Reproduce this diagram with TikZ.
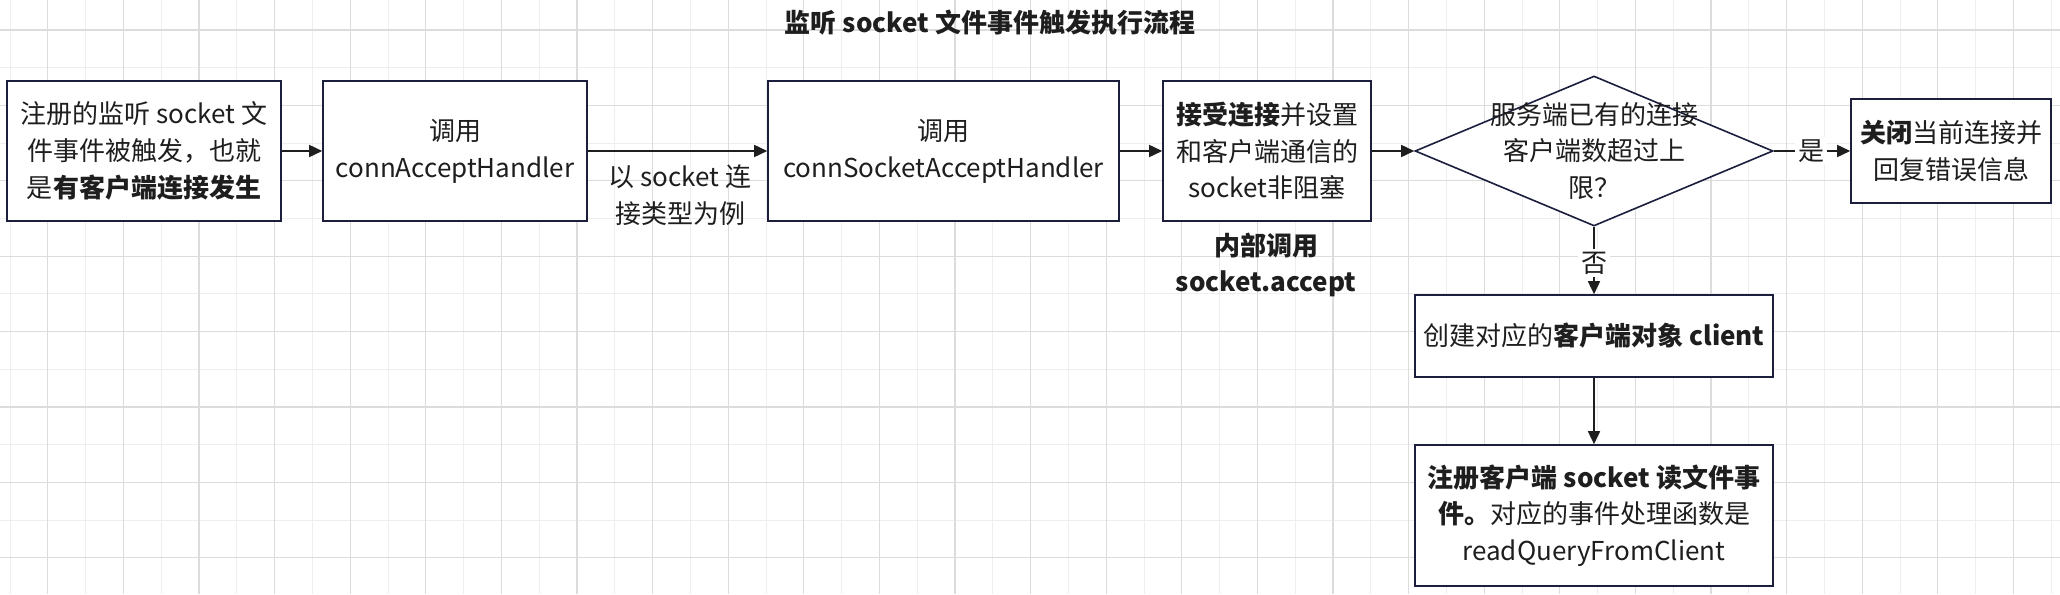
\documentclass[tikz,border=0pt]{standalone}
\usepackage{fontspec}
\setmainfont{Noto Sans CJK SC}
\usetikzlibrary{arrows.meta,shapes.geometric}

\definecolor{gridd}{HTML}{DCDCDC}
\definecolor{gridl}{HTML}{EEEEEE}
\definecolor{edge}{HTML}{1B1E3D}
\definecolor{ink}{HTML}{1E1E1E}

\begin{document}
\begin{tikzpicture}[x=1pt,y=-1pt,font=\fontsize{26pt}{36.7pt}\selectfont,
  box/.style={draw=edge,line width=1.6pt,fill=white,inner sep=0pt,align=center,text=ink},
  flow/.style={draw=ink,line width=1.6pt,-{Triangle[length=13pt,width=12pt]}},
  note/.style={text=ink,align=center,inner sep=1pt}]

  \useasboundingbox[fill=white] (0,0) rectangle (2060,594);

  % grid paper
  \foreach \g in {0,...,27} \draw[gridl,line width=1pt] ({10+75.6*\g},0) -- ++(0,594);
  \foreach \g in {0,...,6} \draw[gridl,line width=1pt] (0,{67.7+75.4*\g}) -- ++(2060,0);
  \foreach \g in {0,...,26} \draw[gridd,line width=1.3pt] ({47.8+75.6*\g},0) -- ++(0,594);
  \foreach \g in {0,...,7} \draw[gridd,line width=1.3pt] (0,{30+75.4*\g}) -- ++(2060,0);

  \node[note,font=\fontsize{26pt}{36.7pt}\selectfont\bfseries] at (990,23) (title) {监听 socket 文件事件触发执行流程};

  \node[box,minimum width=274pt,minimum height=140pt] at (144,151) (reg)
    {注册的监听 socket 文\\件事件被触发，也就\\是\textbf{有客户端连接发生}};
  \node[box,minimum width=264pt,minimum height=140pt] at (455,151) (accept)
    {调用\\connAcceptHandler};
  \node[box,minimum width=351pt,minimum height=140pt] at (943.5,151) (sockacc)
    {调用\\connSocketAcceptHandler};
  \node[box,minimum width=208pt,minimum height=140pt] at (1267,151) (nonblk)
    {\textbf{接受连接}并设置\\和客户端通信的\\socket非阻塞};
  \node[box,shape=diamond,minimum width=358pt,minimum height=150pt] at (1594,151) (limit) {};
  \node[note] at (limit) (limittxt) {服务端已有的连接\\客户端数超过上\\限？};
  \node[box,minimum width=200pt,minimum height=104pt] at (1951,151) (close)
    {\textbf{关闭}当前连接并\\回复错误信息};
  \node[box,minimum width=358pt,minimum height=82pt] at (1594,336) (client)
    {创建对应的\textbf{客户端对象 client}};
  \node[box,minimum width=358pt,minimum height=141pt] at (1594,515.5) (readev)
    {\textbf{注册客户端 socket 读文件事}\\\textbf{件。}对应的事件处理函数是\\readQueryFromClient};

  \node[note,font=\fontsize{26pt}{36.7pt}\selectfont\bfseries] at (1266,265) (inner) {内部调用\\socket.accept};

  \draw[flow] (reg) -- (accept);
  \draw[flow] (accept) -- (sockacc);
  \node[note] at (680,195) (bytype) {以 socket 连\\接类型为例};
  \draw[flow] (sockacc) -- (nonblk);
  \draw[flow] (nonblk) -- (limit);
  \draw[flow] (limit) -- (close);
  \node[note,fill=white,inner sep=3pt] at (1811,151) (yes) {是};
  \draw[flow] (limit) -- (client);
  \node[note,fill=white,inner sep=3pt] at (1594,263) (no) {否};
  \draw[flow] (client) -- (readev);
\end{tikzpicture}
\end{document}
